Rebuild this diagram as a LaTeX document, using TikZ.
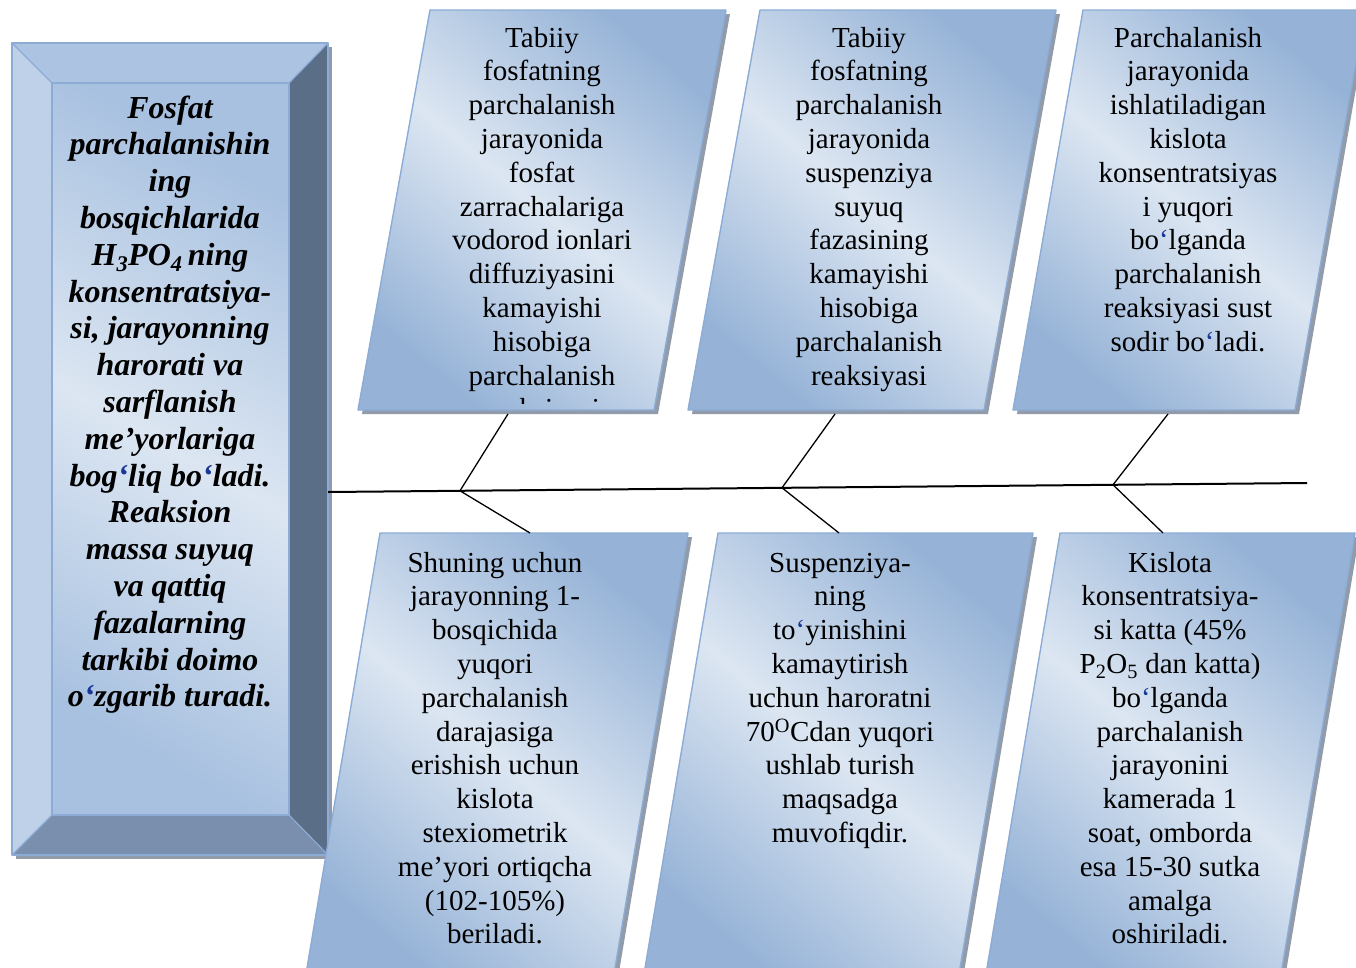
\documentclass[tikz,border=0pt]{standalone}
\usepackage{fontspec}
\setmainfont{Liberation Serif}
\begin{document}
\begin{tikzpicture}[x=1pt,y=-1pt]
\definecolor{pdark}{RGB}{150,179,215}
\definecolor{plight}{RGB}{220,230,242}
\definecolor{fdark}{RGB}{168,193,224}
\definecolor{pedge}{RGB}{140,172,214}
\definecolor{pshadow}{RGB}{145,155,170}
\definecolor{btop}{RGB}{172,195,225}
\definecolor{bleft}{RGB}{191,209,233}
\definecolor{bright}{RGB}{91,110,136}
\definecolor{bbottom}{RGB}{122,142,173}
\definecolor{qblue}{RGB}{25,55,150}
\tikzset{
  cardshade/.style={top color=pdark, bottom color=pdark, middle color=plight, shading angle=-40},
  faceshade/.style={top color=fdark, bottom color=fdark, middle color=plight, shading angle=-30},
  cardedge/.style={draw=pedge, line width=1.4pt, line join=round},
  cardshadow/.style={fill=pshadow, shift={(4,4)}},
  cardtext/.style={font=\fontsize{29}{33.8}\selectfont, align=center, anchor=north, inner sep=0pt},
  headtext/.style={font=\fontsize{32}{36.8}\selectfont\bfseries\itshape, align=center, anchor=north, inner sep=0pt},
  bevel/.style={draw=pedge, line width=1.2pt, line join=round},
  bone/.style={draw=black, line width=1.3pt},
  spine/.style={draw=black, line width=2pt},
}
\newcommand{\ok}{\textcolor{qblue}{‘}}
\useasboundingbox (0,0) rectangle (1356,967);
\clip (0,0) rectangle (1356,967);

% ---------- bevelled heading box ----------
\fill[cardshadow] (12,43) rectangle (328,855);
\fill[btop]    (12,43) -- (328,43) -- (289,83) -- (52,83) -- cycle;
\fill[bleft]   (12,43) -- (52,83) -- (52,815) -- (12,855) -- cycle;
\fill[bright]  (328,43) -- (328,855) -- (289,815) -- (289,83) -- cycle;
\fill[bbottom] (12,855) -- (328,855) -- (289,815) -- (52,815) -- cycle;
\shade[faceshade] (52,83) rectangle (289,815);
\draw[bevel] (12,43) rectangle (328,855);
\draw[bevel] (52,83) rectangle (289,815);
\draw[bevel] (12,43) -- (52,83) (328,43) -- (289,83) (12,855) -- (52,815) (328,855) -- (289,815);
\node[headtext] (head) at (170,92.2) {\strut Fosfat\\parchalanishin\\ing\\bosqichlarida\\H\textsubscript{3}PO\textsubscript{4}\,ning\\konsentratsiya-\\si, jarayonning\\harorati va\\sarflanish\\me’yorlariga\\bog\ok liq bo\ok ladi.\\Reaksion\\massa suyuq\\va qattiq\\fazalarning\\tarkibi doimo\\o\ok zgarib turadi.};

% ---------- upper cards ----------
\fill[cardshadow] (430,10) -- (726,10) -- (654,410) -- (358,410) -- cycle;
\shadedraw[cardshade, cardedge] (430,10) -- (726,10) -- (654,410) -- (358,410) -- cycle;
\begin{scope}
  \clip (430,10) -- (726,10) -- (654,410) -- (358,410) -- cycle;
  \clip (0,0) rectangle (1356,403.5);
  \node[cardtext] (c1) at (542,23.3) {\strut Tabiiy\\fosfatning\\parchalanish\\jarayonida\\fosfat\\zarrachalariga\\vodorod ionlari\\diffuziyasini\\kamayishi\\hisobiga\\parchalanish\\reaksiyasi};
\end{scope}

\fill[cardshadow] (760,10) -- (1056,10) -- (984,410) -- (688,410) -- cycle;
\shadedraw[cardshade, cardedge] (760,10) -- (1056,10) -- (984,410) -- (688,410) -- cycle;
\node[cardtext] (c2) at (869,23.3) {\strut Tabiiy\\fosfatning\\parchalanish\\jarayonida\\suspenziya\\suyuq\\fazasining\\kamayishi\\hisobiga\\parchalanish\\reaksiyasi};

\fill[cardshadow] (1083,10) -- (1365,10) -- (1295,410) -- (1013,410) -- cycle;
\shadedraw[cardshade, cardedge] (1083,10) -- (1365,10) -- (1295,410) -- (1013,410) -- cycle;
\node[cardtext] (c3) at (1188,23.3) {\strut Parchalanish\\jarayonida\\ishlatiladigan\\kislota\\konsentratsiyas\\i yuqori\\bo\ok lganda\\parchalanish\\reaksiyasi sust\\sodir bo\ok ladi.};

% ---------- lower cards ----------
\fill[cardshadow] (380,533) -- (688,533) -- (613,980) -- (305,980) -- cycle;
\shadedraw[cardshade, cardedge] (380,533) -- (688,533) -- (613,980) -- (305,980) -- cycle;
\node[cardtext] (c4) at (495,548.3) {\strut Shuning uchun\\jarayonning 1-\\bosqichida\\yuqori\\parchalanish\\darajasiga\\erishish uchun\\kislota\\stexiometrik\\me’yori ortiqcha\\(102-105\%)\\beriladi.};

\fill[cardshadow] (718,533) -- (1033,533) -- (958,980) -- (643,980) -- cycle;
\shadedraw[cardshade, cardedge] (718,533) -- (1033,533) -- (958,980) -- (643,980) -- cycle;
\node[cardtext] (c5) at (840,548.3) {\strut Suspenziya-\\ning\\to\ok yinishini\\kamaytirish\\uchun haroratni\\70\textsuperscript{O}Cdan yuqori\\ushlab turish\\maqsadga\\muvofiqdir.};

\fill[cardshadow] (1060,533) -- (1355,533) -- (1280,980) -- (985,980) -- cycle;
\shadedraw[cardshade, cardedge] (1060,533) -- (1355,533) -- (1280,980) -- (985,980) -- cycle;
\node[cardtext] (c6) at (1170,548.3) {\strut Kislota\\konsentratsiya-\\si katta (45\%\\P\textsubscript{2}O\textsubscript{5} dan katta)\\bo\ok lganda\\parchalanish\\jarayonini\\kamerada 1\\soat, omborda\\esa 15-30 sutka\\amalga\\oshiriladi.};

% ---------- spine and bones ----------
\coordinate (s0) at (328,492);
\coordinate (s1) at (1307,483);
\coordinate (j1) at (460,490.8);
\coordinate (j2) at (782,487.8);
\coordinate (j3) at (1113,484.8);
\coordinate (u1) at (508,414);
\coordinate (u2) at (835,414);
\coordinate (u3) at (1168,414);
\coordinate (l1) at (530,533);
\coordinate (l2) at (839,533);
\coordinate (l3) at (1163,533);
\draw[spine] (s0) -- (s1);
\draw[bone] (u1) -- (j1) -- (l1);
\draw[bone] (u2) -- (j2) -- (l2);
\draw[bone] (u3) -- (j3) -- (l3);
\end{tikzpicture}
\end{document}
